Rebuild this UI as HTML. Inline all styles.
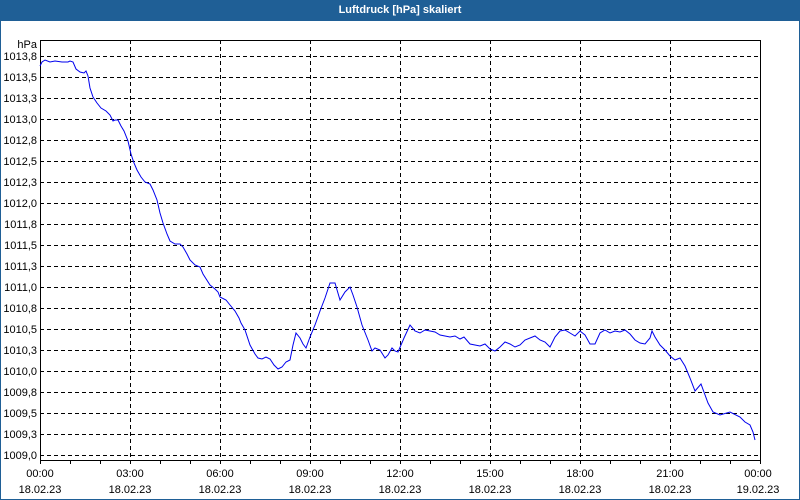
<!DOCTYPE html>
<html><head><meta charset="utf-8"><style>
html,body{margin:0;padding:0;background:#fff}
#w{position:relative;width:798px;height:498px;border:1px solid #1f5f96;overflow:hidden;font-family:"Liberation Sans",sans-serif}
#t{position:absolute;left:0;top:0;width:798px;height:20px;background:#1f5f96;color:#fff;font-weight:bold;font-size:11px;text-align:center;line-height:19px}
</style></head><body><div id="w"><div id="t">Luftdruck [hPa] skaliert</div>
<svg width="800" height="500" style="position:absolute;left:-1px;top:-1px" font-family="Liberation Sans, sans-serif" font-size="11">
<g stroke="#000" stroke-dasharray="4,3" stroke-width="1">
<line x1="40" x2="760" y1="56.5" y2="56.5"/><line x1="40" x2="760" y1="77.5" y2="77.5"/><line x1="40" x2="760" y1="98.5" y2="98.5"/><line x1="40" x2="760" y1="119.5" y2="119.5"/><line x1="40" x2="760" y1="140.5" y2="140.5"/><line x1="40" x2="760" y1="161.5" y2="161.5"/><line x1="40" x2="760" y1="182.5" y2="182.5"/><line x1="40" x2="760" y1="203.5" y2="203.5"/><line x1="40" x2="760" y1="224.5" y2="224.5"/><line x1="40" x2="760" y1="245.5" y2="245.5"/><line x1="40" x2="760" y1="266.5" y2="266.5"/><line x1="40" x2="760" y1="287.5" y2="287.5"/><line x1="40" x2="760" y1="308.5" y2="308.5"/><line x1="40" x2="760" y1="329.5" y2="329.5"/><line x1="40" x2="760" y1="350.5" y2="350.5"/><line x1="40" x2="760" y1="371.5" y2="371.5"/><line x1="40" x2="760" y1="392.5" y2="392.5"/><line x1="40" x2="760" y1="413.5" y2="413.5"/><line x1="40" x2="760" y1="434.5" y2="434.5"/><line x1="40" x2="760" y1="455.5" y2="455.5"/>
<line y1="40" y2="460" x1="130.5" x2="130.5"/><line y1="40" y2="460" x1="220.5" x2="220.5"/><line y1="40" y2="460" x1="310.5" x2="310.5"/><line y1="40" y2="460" x1="400.5" x2="400.5"/><line y1="40" y2="460" x1="490.5" x2="490.5"/><line y1="40" y2="460" x1="580.5" x2="580.5"/><line y1="40" y2="460" x1="670.5" x2="670.5"/>
</g>
<rect x="40.5" y="40.5" width="720" height="420" fill="none" stroke="#000"/>
<g stroke="#000">
<line x1="40.5" x2="40.5" y1="460" y2="464"/><line x1="70.5" x2="70.5" y1="460" y2="464"/><line x1="100.5" x2="100.5" y1="460" y2="464"/><line x1="130.5" x2="130.5" y1="460" y2="464"/><line x1="160.5" x2="160.5" y1="460" y2="464"/><line x1="190.5" x2="190.5" y1="460" y2="464"/><line x1="220.5" x2="220.5" y1="460" y2="464"/><line x1="250.5" x2="250.5" y1="460" y2="464"/><line x1="280.5" x2="280.5" y1="460" y2="464"/><line x1="310.5" x2="310.5" y1="460" y2="464"/><line x1="340.5" x2="340.5" y1="460" y2="464"/><line x1="370.5" x2="370.5" y1="460" y2="464"/><line x1="400.5" x2="400.5" y1="460" y2="464"/><line x1="430.5" x2="430.5" y1="460" y2="464"/><line x1="460.5" x2="460.5" y1="460" y2="464"/><line x1="490.5" x2="490.5" y1="460" y2="464"/><line x1="520.5" x2="520.5" y1="460" y2="464"/><line x1="550.5" x2="550.5" y1="460" y2="464"/><line x1="580.5" x2="580.5" y1="460" y2="464"/><line x1="610.5" x2="610.5" y1="460" y2="464"/><line x1="640.5" x2="640.5" y1="460" y2="464"/><line x1="670.5" x2="670.5" y1="460" y2="464"/><line x1="700.5" x2="700.5" y1="460" y2="464"/><line x1="730.5" x2="730.5" y1="460" y2="464"/><line x1="760.5" x2="760.5" y1="460" y2="464"/>
</g>
<g text-anchor="end" fill="#000">
<text x="37" y="48">hPa</text>
<text x="37" y="60">1013,8</text><text x="37" y="81">1013,5</text><text x="37" y="102">1013,3</text><text x="37" y="123">1013,0</text><text x="37" y="144">1012,8</text><text x="37" y="165">1012,5</text><text x="37" y="186">1012,3</text><text x="37" y="207">1012,0</text><text x="37" y="228">1011,8</text><text x="37" y="249">1011,5</text><text x="37" y="270">1011,3</text><text x="37" y="291">1011,0</text><text x="37" y="312">1010,8</text><text x="37" y="333">1010,5</text><text x="37" y="354">1010,3</text><text x="37" y="375">1010,0</text><text x="37" y="396">1009,8</text><text x="37" y="417">1009,5</text><text x="37" y="438">1009,3</text><text x="37" y="459">1009,0</text>
</g>
<g text-anchor="middle" fill="#000">
<text x="40" y="477">00:00</text><text x="40" y="493">18.02.23</text>
<text x="130" y="477">03:00</text><text x="130" y="493">18.02.23</text>
<text x="220" y="477">06:00</text><text x="220" y="493">18.02.23</text>
<text x="310" y="477">09:00</text><text x="310" y="493">18.02.23</text>
<text x="400" y="477">12:00</text><text x="400" y="493">18.02.23</text>
<text x="490" y="477">15:00</text><text x="490" y="493">18.02.23</text>
<text x="580" y="477">18:00</text><text x="580" y="493">18.02.23</text>
<text x="670" y="477">21:00</text><text x="670" y="493">18.02.23</text>
<text x="758" y="477">00:00</text><text x="758" y="493">19.02.23</text>
</g>
<polyline fill="none" stroke="#0000ee" stroke-width="1" points="40,66 42,62 45,60 50,62 55,61 62,62 68,62 70,61 73,62 76,69 80,72 84,73 86,71 88,76 90,88 93,97 97,103 101,108 106,111 110,115 113,121 115,120 118,120 121,126 124,131 128,141 131,154 134,163 137,170 141,177 145,182 150,184 153,190 157,200 160,213 163,223 167,234 170,241 175,244 180,244 183,247 187,254 190,260 195,265 200,267 203,274 210,285 215,289 218,292 220,297 226,300 230,305 235,311 239,318 241,323 245,330 250,345 255,354 258,358 262,359 266,357 270,359 274,365 278,369 282,367 286,362 290,360 293,345 296,333 300,338 303,344 306,348 310,337 315,325 320,311 325,298 330,283 335,283 340,300 345,292 350,287 353,295 357,307 362,325 368,340 372,351 375,348 380,350 385,358 388,355 392,348 395,351 398,352 401,345 404,338 410,325 415,331 420,333 425,330 430,331 435,332 440,335 445,336 450,337 455,336 460,339 464,337 470,344 475,345 480,346 485,344 490,349 495,351 500,347 505,342 510,344 515,347 520,345 525,340 530,338 535,336 540,340 545,342 550,347 555,337 560,331 565,330 570,333 575,336 580,331 585,335 590,344 595,344 600,333 605,330 610,333 615,331 620,332 625,330 630,334 635,340 640,343 645,344 650,338 652,331 655,337 660,345 665,350 670,356 675,360 680,358 685,366 690,378 695,391 701,384 708,403 713,412 720,415 730,412 740,417 745,422 750,425 753,432 755,440"/>
</svg></div></body></html>
